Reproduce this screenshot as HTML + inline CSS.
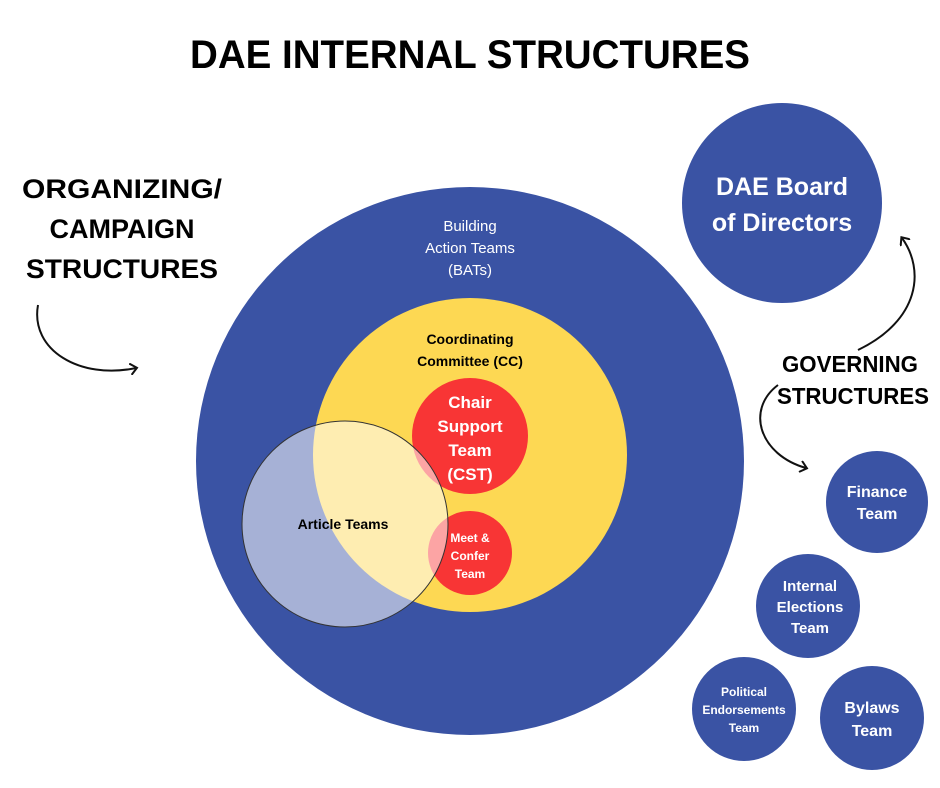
<!DOCTYPE html>
<html><head><meta charset="utf-8"><style>
body{margin:0;background:#fff;}
svg{display:block;font-family:"Liberation Sans",sans-serif;}
</style></head><body>
<svg width="940" height="788" viewBox="0 0 940 788" xmlns="http://www.w3.org/2000/svg">
<defs><marker id="ah" markerWidth="12" markerHeight="12" refX="6" refY="6" orient="auto" markerUnits="userSpaceOnUse"><path d="M0,0 L7,6 L0,12" fill="none" stroke="#111" stroke-width="2"/></marker></defs>
<text x="470" y="68" text-anchor="middle" font-size="40" font-weight="bold" fill="#000" textLength="560" lengthAdjust="spacingAndGlyphs">DAE INTERNAL STRUCTURES</text>
<g font-size="27" font-weight="bold" text-anchor="middle" fill="#000">
<text x="122" y="198" textLength="200" lengthAdjust="spacingAndGlyphs">ORGANIZING/</text>
<text x="122" y="238">CAMPAIGN</text>
<text x="122" y="278" textLength="192" lengthAdjust="spacingAndGlyphs">STRUCTURES</text>
<text x="850" y="372" font-size="23" textLength="136" lengthAdjust="spacingAndGlyphs">GOVERNING</text>
<text x="853" y="404" font-size="23" textLength="152" lengthAdjust="spacingAndGlyphs">STRUCTURES</text>
</g>
<path d="M38,305 C30,350 80,380 136,368" fill="none" stroke="#111" stroke-width="2" marker-end="url(#ah)"/>
<path d="M858,350 C920,320 925,270 902,238" fill="none" stroke="#111" stroke-width="2" marker-end="url(#ah)"/>
<path d="M778,385 C745,410 760,455 806,468" fill="none" stroke="#111" stroke-width="2" marker-end="url(#ah)"/>
<circle cx="470" cy="461" r="274" fill="#3a53a4"/>
<circle cx="470" cy="455" r="157" fill="#fdd853"/>
<circle cx="470" cy="436" r="58" fill="#f83535"/>
<circle cx="470" cy="553" r="42" fill="#f83535"/>
<circle cx="345" cy="524" r="103" fill="rgba(255,255,255,0.55)" stroke="#333" stroke-width="1"/>
<g text-anchor="middle" fill="#fff" font-size="15">
<text x="470" y="231">Building</text>
<text x="470" y="253">Action Teams</text>
<text x="470" y="275">(BATs)</text>
</g>
<g text-anchor="middle" fill="#000" font-size="14" font-weight="bold">
<text x="470" y="344">Coordinating</text>
<text x="470" y="366">Committee (CC)</text>
<text x="343" y="529">Article Teams</text>
</g>
<g text-anchor="middle" fill="#fff" font-weight="bold">
<text x="470" y="408" font-size="17">Chair</text>
<text x="470" y="432" font-size="17">Support</text>
<text x="470" y="456" font-size="17">Team</text>
<text x="470" y="480" font-size="17">(CST)</text>
<text x="470" y="542" font-size="12">Meet &amp;</text>
<text x="470" y="560" font-size="12">Confer</text>
<text x="470" y="578" font-size="12">Team</text>
</g>
<circle cx="782" cy="203" r="100" fill="#3a53a4"/>
<circle cx="877" cy="502" r="51" fill="#3a53a4"/>
<circle cx="808" cy="606" r="52" fill="#3a53a4"/>
<circle cx="744" cy="709" r="52" fill="#3a53a4"/>
<circle cx="872" cy="718" r="52" fill="#3a53a4"/>
<g text-anchor="middle" fill="#fff" font-weight="bold">
<text x="782" y="195" font-size="25">DAE Board</text>
<text x="782" y="231" font-size="25">of Directors</text>
<text x="877" y="497" font-size="16">Finance</text>
<text x="877" y="519" font-size="16">Team</text>
<text x="810" y="591" font-size="15">Internal</text>
<text x="810" y="612" font-size="15">Elections</text>
<text x="810" y="633" font-size="15">Team</text>
<text x="744" y="696" font-size="12">Political</text>
<text x="744" y="714" font-size="12">Endorsements</text>
<text x="744" y="732" font-size="12">Team</text>
<text x="872" y="713" font-size="16">Bylaws</text>
<text x="872" y="736" font-size="16">Team</text>
</g>
</svg>
</body></html>
